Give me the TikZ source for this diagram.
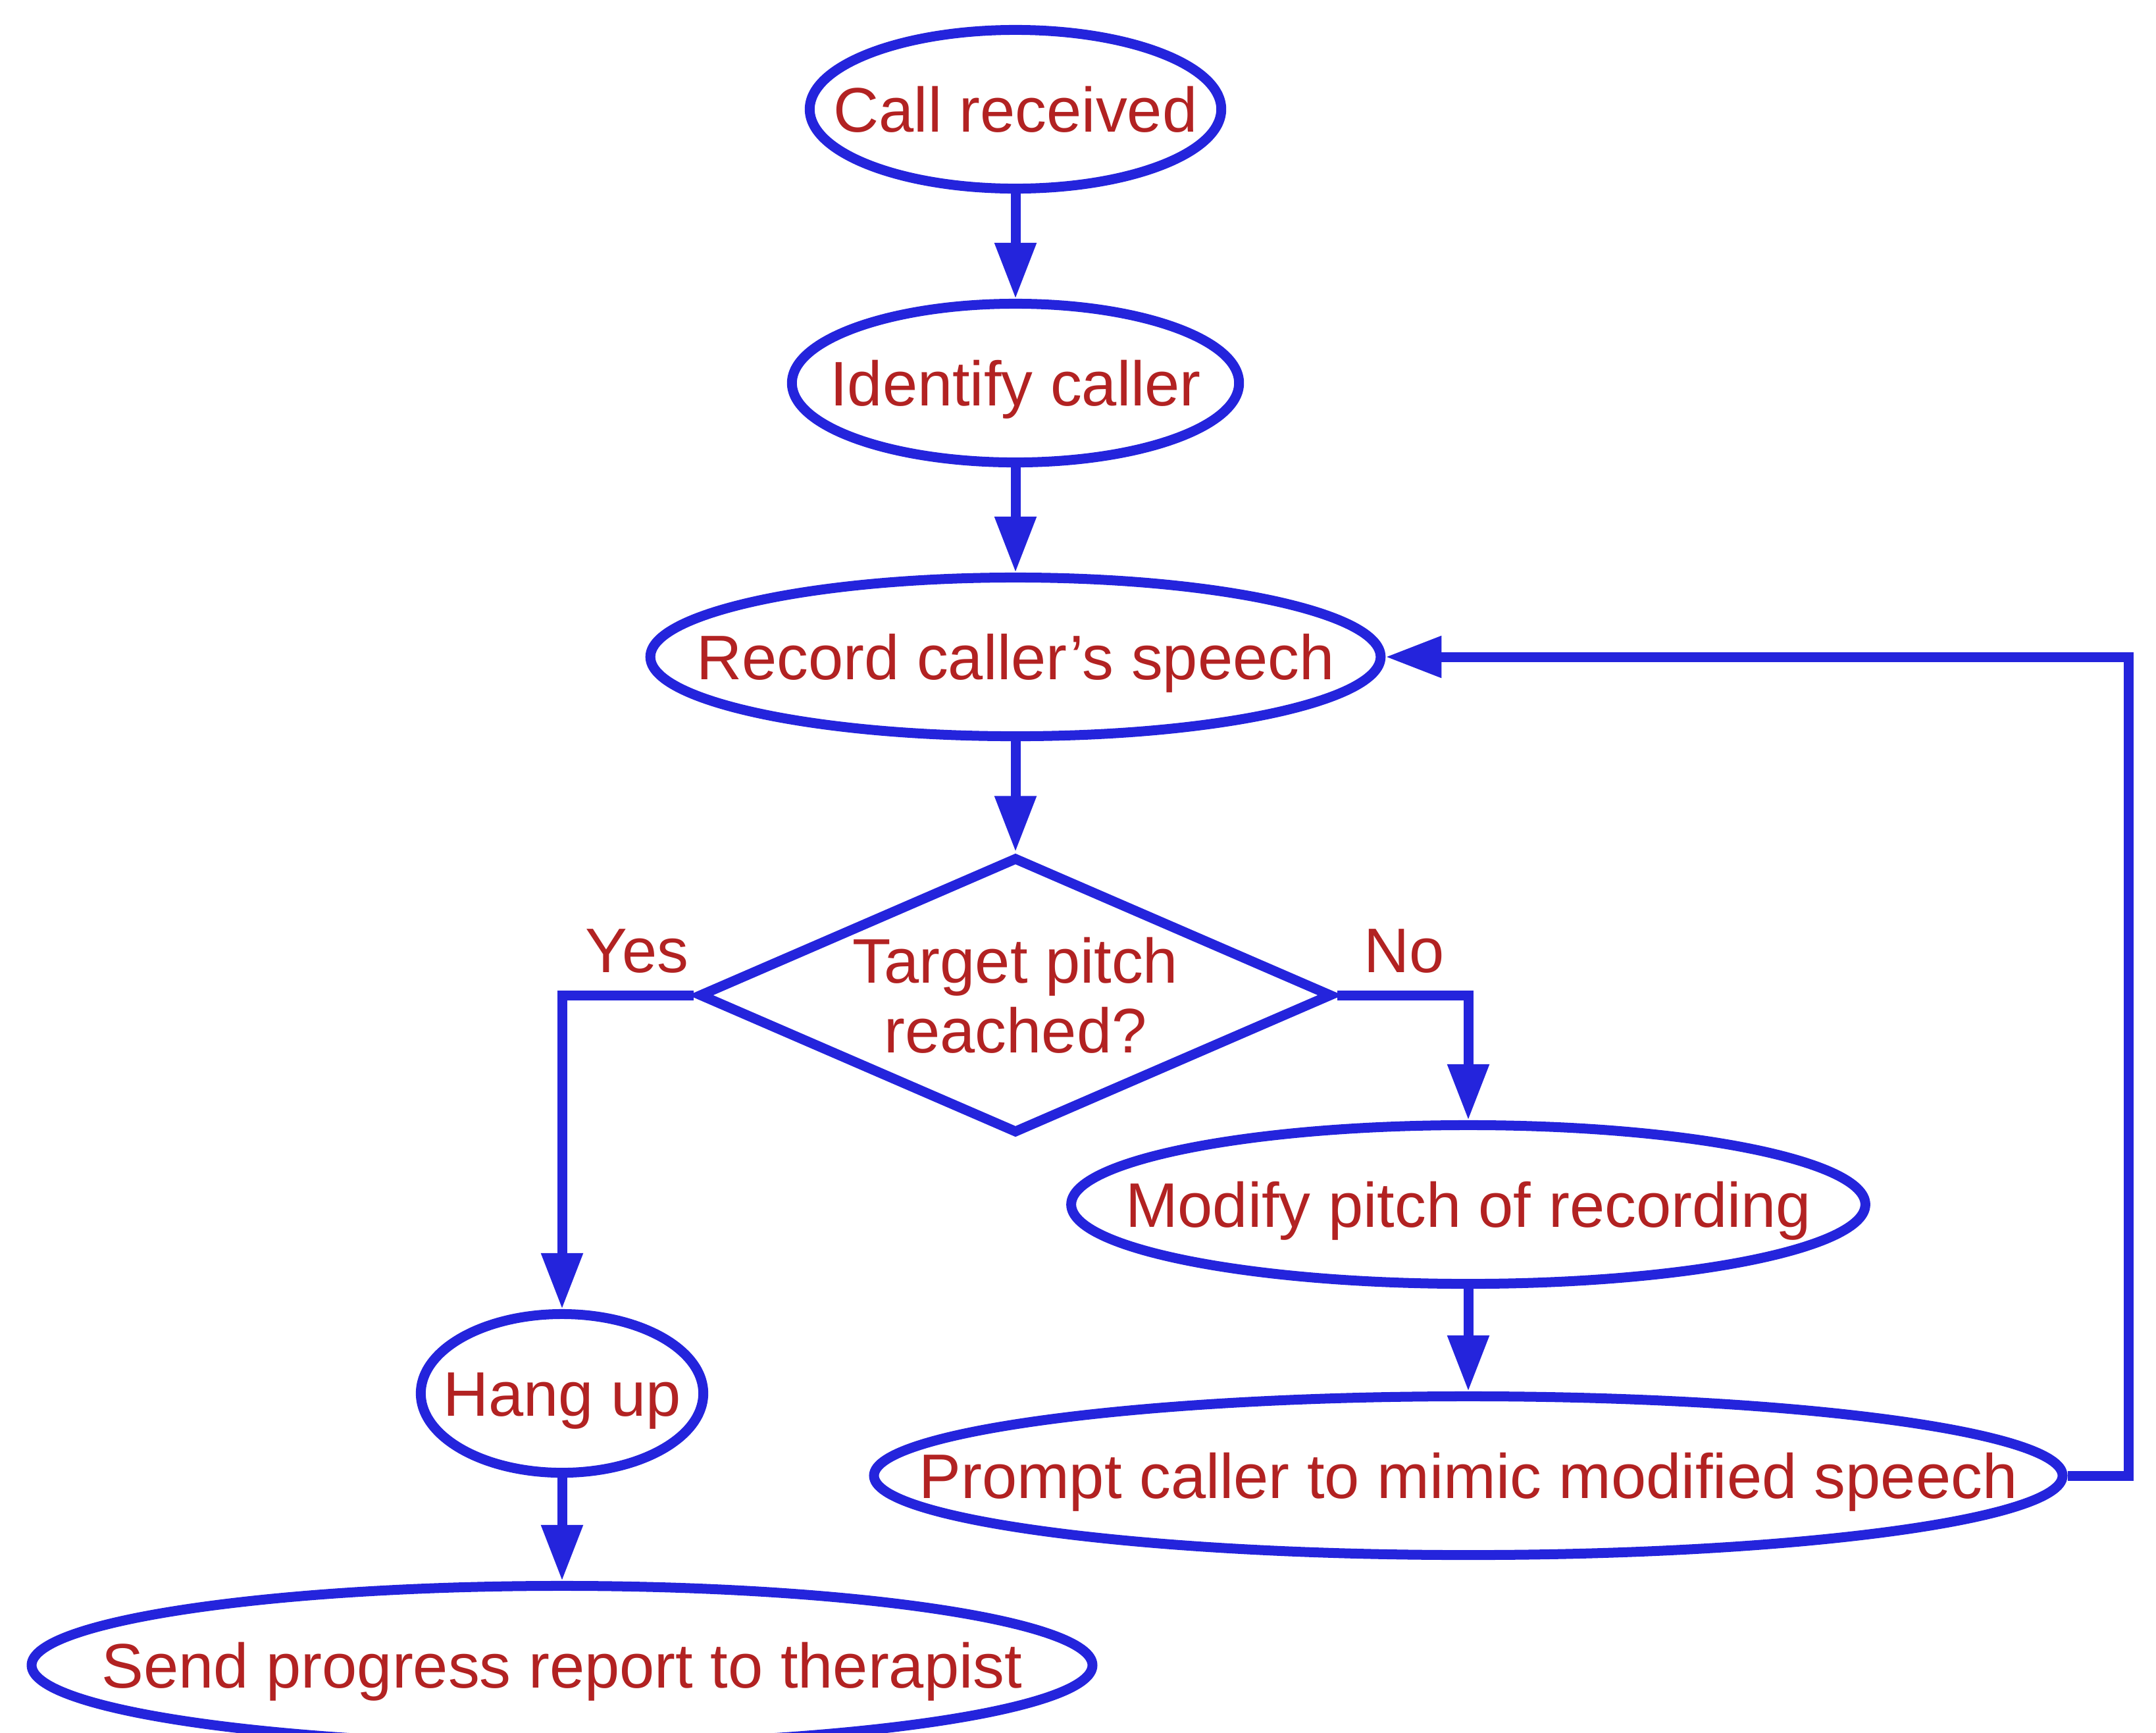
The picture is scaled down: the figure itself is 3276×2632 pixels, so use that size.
\documentclass[tikz,border=0pt]{standalone}
\usepackage{fontspec}
\setmainfont{Liberation Sans}
\usetikzlibrary{shapes.geometric,arrows.meta}
\definecolor{flowblue}{RGB}{36,36,220}
\definecolor{flowred}{RGB}{178,34,34}
\begin{document}
\begin{tikzpicture}[x=0.01cm,y=-0.01cm,
  every node/.style={font=\fontsize{27.2pt}{30.2pt}\selectfont, text=flowred},
  every label/.style={text height=0.684cm, text depth=0pt, inner sep=0pt},
  term/.style={ellipse, draw=flowblue, line width=0.15cm, minimum height=2.41cm,
    inner sep=0pt},
  decision/.style={diamond, draw=flowblue, line width=0.15cm, minimum width=9.62cm,
    minimum height=4.2cm, inner sep=0pt},
  flow/.style={draw=flowblue, line width=0.15cm, -{Triangle[length=0.85cm,width=0.6cm]}}]
\useasboundingbox (0,0) rectangle (3276,2632);
\clip (0,0) rectangle (3276,2632);
\node[term, minimum width=6.25cm, label={center:Call received}] (call) at (1543,166) {};
\node[term, minimum width=6.79cm, label={center:Identify caller}] (ident) at (1543,582) {};
\node[term, minimum width=11.09cm, label={center:Record caller’s speech}] (rec) at (1543,998) {};
\node[decision] (dec) at (1543,1512) {};
\node[align=center] (dectext) at (1543,1512) {Target pitch\\reached?};
\node[term, minimum width=4.29cm, label={center:Hang up}] (hang) at (854,2117) {};
\node[term, minimum width=16.11cm, label={center:Send progress report to therapist}] (send) at (854,2530) {};
\node[term, minimum width=12.06cm, label={center:Modify pitch of recording}] (mod) at (2231,1830) {};
\node[term, minimum width=18.05cm, label={center:Prompt caller to mimic modified speech}] (prompt) at (2231,2242) {};
\node[anchor=base] (yes) at (968,1477) {Yes};
\node[anchor=base] (no) at (2134,1477) {No};
\coordinate (loopb) at (3234,2242);
\coordinate (loopt) at (3234,998);
\draw[flow] (call) -- (ident);
\draw[flow] (ident) -- (rec);
\draw[flow] (rec) -- (dec);
\draw[flow] (dec.west) -| (hang.north);
\draw[flow] (dec.east) -| (mod.north);
\draw[flow] (mod) -- (prompt);
\draw[flow] (hang) -- (send);
\draw[flow] (prompt.east) -- (loopb) -- (loopt) -- (rec.east);
\end{tikzpicture}
\end{document}
